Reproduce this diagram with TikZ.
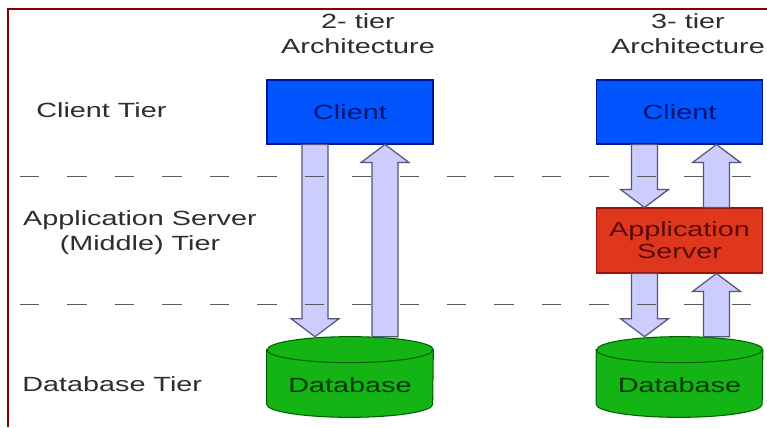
\documentclass[tikz,border=0pt]{standalone}
\usepackage{fontspec}
\setmainfont{Liberation Sans}[FakeStretch=1.4]
\usetikzlibrary{calc}
\definecolor{framecol}{RGB}{128,0,0}
\definecolor{labcol}{RGB}{45,45,45}
\definecolor{clientfill}{RGB}{0,85,255}
\definecolor{clientline}{RGB}{0,20,150}
\definecolor{clienttext}{RGB}{0,20,110}
\definecolor{appfill}{RGB}{222,55,30}
\definecolor{appline}{RGB}{150,20,10}
\definecolor{apptext}{RGB}{90,10,5}
\definecolor{dbfillc}{RGB}{20,180,20}
\definecolor{dblinec}{RGB}{0,95,0}
\definecolor{dbtextc}{RGB}{0,55,0}
\definecolor{arrfill}{RGB}{204,204,255}
\definecolor{arrline}{RGB}{85,85,120}
\definecolor{dashcol}{RGB}{90,90,90}
\newcommand\blkarrow[4]{%
  \path[blk] ($(#1)+(#3-13,0)$) -- ($(#2)+(#3-13,#4*18)$) -- ($(#2)+(#3-24,#4*18)$)
    -- ($(#2)+(#3,0)$) -- ($(#2)+(#3+24,#4*18)$) -- ($(#2)+(#3+13,#4*18)$)
    -- ($(#1)+(#3+13,0)$) -- cycle;}
\newcommand\dbcyl[1]{%
  \path[dbbody] ($(#1.north west)+(0,-13)$) -- ($(#1.south west)+(0,13)$)
    arc[start angle=180,end angle=360,x radius=83,y radius=13]
    -- ($(#1.north east)+(0,-13)$)
    arc[start angle=0,end angle=180,x radius=83,y radius=13] -- cycle;
  \draw[dbedge] ($(#1.north west)+(0,-13)$) arc[start angle=180,end angle=360,x radius=83,y radius=13];}
\tikzset{
  lab/.style={text=labcol, inner sep=0pt},
  clientbox/.style={draw=clientline, fill=clientfill, line width=0.6pt, text=clienttext,
    minimum width=3.32cm, minimum height=1.28cm, inner sep=0pt},
  appbox/.style={draw=appline, fill=appfill, line width=0.6pt, text=apptext, align=center,
    minimum width=3.32cm, minimum height=1.3cm, inner sep=0pt,
    font=\fontsize{11.7}{12.5}\selectfont},
  dbnode/.style={minimum width=3.32cm, minimum height=1.6cm, inner sep=0pt, draw=none},
  dbbody/.style={draw=dblinec, fill=dbfillc, line width=0.6pt},
  dbedge/.style={draw=dblinec, line width=0.6pt},
  dbtext/.style={text=dbtextc, inner sep=0pt},
  blk/.style={draw=arrline, fill=arrfill, line width=0.7pt, line join=miter},
  tierline/.style={draw=dashcol, line width=0.5pt, dash pattern=on 11pt off 16pt},
  framestyle/.style={draw=framecol, line width=1.7pt}
}
\begin{document}
\begin{tikzpicture}[x=0.02cm,y=0.02cm,font=\fontsize{11.7}{14.2}\selectfont]
\useasboundingbox (0,0) rectangle (767,427);
\fill[white] (0,0) rectangle (767,427);
% frame
\draw[framestyle] (8,0) -- (8,418) -- (767,418);
% headings
\node[lab, align=center] (h2) at (358,393) {2- tier\\Architecture};
\node[lab, align=center] (h3) at (688,393) {3- tier\\Architecture};
% tier labels
\node[lab, anchor=west] (lclient) at (36,317) {Client Tier};
\node[lab, align=center] (lapp) at (140,194) {Application Server\\(Middle) Tier};
\node[lab, anchor=west] (ldb) at (22,43) {Database Tier};
% boxes
\node[clientbox] (c2) at (350,315) {Client};
\node[clientbox] (c3) at (679.5,315) {Client};
\node[appbox] (a3) at (679.5,186.5) {Application\\Server};
\node[dbnode] (d2) at (350,50) {};
\node[dbnode] (d3) at (679.5,50) {};
\dbcyl{d2}
\dbcyl{d3}
\node[dbtext] (d2t) at (350,42) {Database};
\node[dbtext] (d3t) at (679.5,42) {Database};
% arrows
\blkarrow{c2.south}{d2.north}{-35}{1}
\blkarrow{d2.north}{c2.south}{35}{-1}
\blkarrow{c3.south}{a3.north}{-35}{1}
\blkarrow{a3.north}{c3.south}{37}{-1}
\blkarrow{a3.south}{d3.north}{-35}{1}
\blkarrow{d3.north}{a3.south}{37}{-1}
% dashed tier separators
\coordinate (s1a) at (20,251);
\coordinate (s1b) at (767,251);
\coordinate (s2a) at (20,123);
\coordinate (s2b) at (767,123);
\draw[tierline] (s1a) -- (s1b);
\draw[tierline] (s2a) -- (s2b);
\end{tikzpicture}
\end{document}
